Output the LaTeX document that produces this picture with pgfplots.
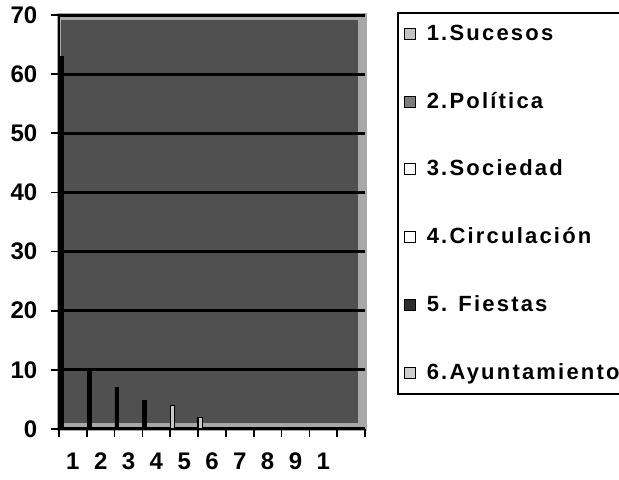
\documentclass[border=0pt]{standalone}
\usepackage{pgfplots}
\pgfplotsset{compat=1.18}
\usepackage{fontspec}
\setmainfont{Liberation Sans}
\newfontfamily\legfont{Liberation Sans}[LetterSpace=10]
\definecolor{plotdark}{RGB}{80,80,80}
\definecolor{plotframe}{RGB}{168,168,168}
\definecolor{cA}{RGB}{195,195,195}
\definecolor{cB}{RGB}{125,125,125}
\definecolor{cE}{RGB}{45,45,45}
\definecolor{cF}{RGB}{205,205,205}
\definecolor{barlight}{RGB}{200,200,200}
\pgfplotsset{
  sq/.style={legend image code/.code={\draw[##1] (0pt,-2.75pt) rectangle (5.5pt,2.75pt);}}
}
\begin{document}
\begin{tikzpicture}
\begin{axis}[
  scale only axis, width=153pt, height=207pt,
  at={(29.5pt,25.5pt)}, anchor=south west,
  xmin=0, xmax=11, ymin=0, ymax=70,
  axis x line*=bottom, axis y line*=left,
  ytick={0,10,...,70},
  xtick={0,...,11}, xticklabels={},
  extra x ticks={0.5,1.5,...,9.5},
  extra x tick labels={1,2,3,4,5,6,7,8,9,1},
  extra x tick style={major tick length=0pt, tick label style={yshift=-8.5pt}},
  tick align=outside, major tick length=3.8pt,
  ymajorgrids, major grid style={black, line width=1.5pt},
  axis line style={black, line width=1pt},
  tick style={black, line width=0.8pt},
  /pgf/number format/assume math mode=true,
  x tick label style={font=\bfseries\fontsize{12}{14}\selectfont},
  y tick label style={font=\bfseries\fontsize{12}{14}\selectfont, xshift=-3.5pt},
  axis background/.style={fill=plotframe, draw=plotframe, line width=2pt,
    path picture={\fill[plotdark] ([xshift=0.5pt,yshift=3pt]path picture bounding box.south west) rectangle ([xshift=-3.5pt,yshift=-2.5pt]path picture bounding box.north east);}},
  legend style={at={(axis description cs:1.1046,1.0072)}, anchor=north west,
    draw=black, line width=0.8pt, fill=white,
    font=\legfont\bfseries\fontsize{11}{13}\selectfont,
    row sep=20.4pt, inner xsep=3pt, inner ysep=4pt,
    nodes={inner xsep=5.5pt},
    cells={anchor=west}},
]
\addplot[ybar, bar width=0.14, fill=black, draw=black, forget plot]
  coordinates {(0.08,63) (1.08,9.8) (2.08,7.1) (3.08,4.9)};
\addplot[ybar, bar width=0.17, fill=barlight, draw=black, line width=0.6pt, forget plot]
  coordinates {(4.08,4) (5.08,2)};
\addlegendimage{sq, fill=cA, draw=black, line width=0.5pt}
\addlegendimage{sq, fill=cB, draw=black, line width=0.5pt}
\addlegendimage{sq, fill=white, draw=black, line width=0.5pt}
\addlegendimage{sq, fill=white, draw=black, line width=0.5pt}
\addlegendimage{sq, fill=cE, draw=black, line width=0.5pt}
\addlegendimage{sq, fill=cF, draw=black, line width=0.5pt}
\legend{1.Sucesos, 2.Política, 3.Sociedad, 4.Circulación, 5. Fiestas, 6.Ayuntamiento}
\end{axis}
\pgfresetboundingbox
\useasboundingbox (0,0) rectangle (309.5pt,240pt);
\end{tikzpicture}
\end{document}
